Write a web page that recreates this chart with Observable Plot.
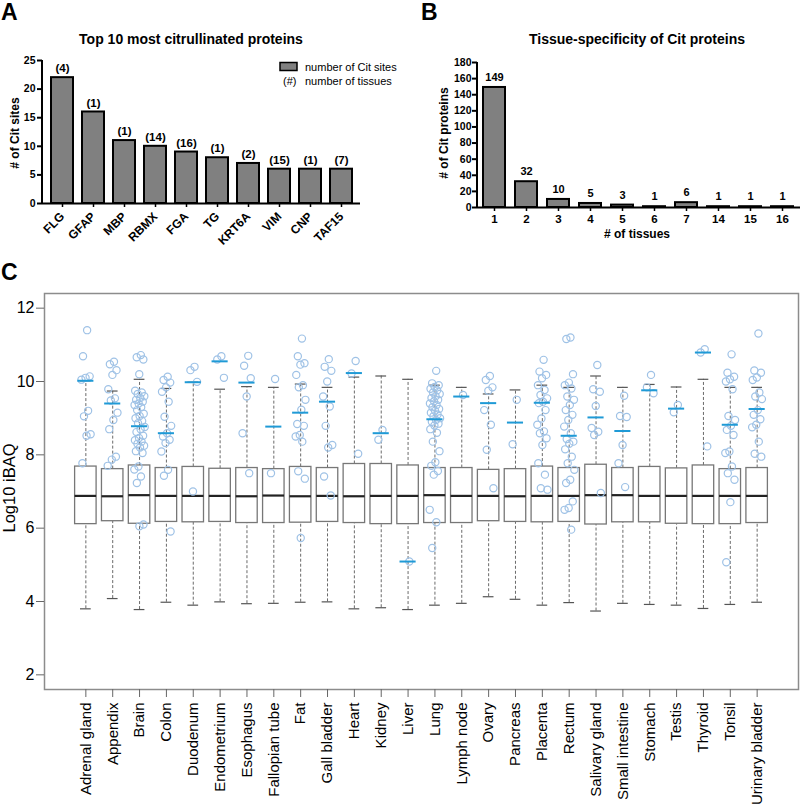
<!DOCTYPE html>
<html><head><meta charset="utf-8">
<script src="https://cdn.jsdelivr.net/npm/d3@7"></script>
<script src="https://cdn.jsdelivr.net/npm/@observablehq/plot@0.6"></script>
<style>
html,body{margin:0;padding:0;background:#fff;}
#root{position:relative;width:800px;height:811px;overflow:hidden;font-family:"Liberation Sans",Arial,sans-serif;}
#root > svg{position:absolute;}
</style></head><body><div id="root"></div>
<script>
// ---------- Panel A data ----------
const proteins = ["FLG","GFAP","MBP","RBMX","FGA","TG","KRT6A","VIM","CNP","TAF15"];
const citSites = [22,16,11,10,9,8,7,6,6,6];
const tissueCounts = [4,1,1,14,16,1,2,15,1,7];

// ---------- Panel B data ----------
const numTissues = ["1","2","3","4","5","6","7","14","15","16"];
const citProteinCounts = [149,32,10,5,3,1,6,1,1,1];

// ---------- Panel C data ----------
const tissues = ["Adrenal gland","Appendix","Brain","Colon","Duodenum","Endometrium","Esophagus","Fallopian tube","Fat","Gall bladder","Heart","Kidney","Liver","Lung","Lymph node","Ovary","Pancreas","Placenta","Rectum","Salivary gland","Small intestine","Stomach","Testis","Thyroid","Tonsil","Urinary bladder"];
const boxQ1  = [6.11,6.19,6.12,6.17,6.16,6.17,6.14,6.14,6.15,6.17,6.14,6.11,6.11,6.14,6.14,6.19,6.17,6.16,6.17,6.10,6.16,6.16,6.12,6.11,6.11,6.14];
const boxMed = [6.88,6.87,6.90,6.88,6.88,6.88,6.87,6.89,6.87,6.88,6.87,6.88,6.88,6.90,6.88,6.88,6.87,6.88,6.88,6.90,6.90,6.88,6.88,6.88,6.88,6.88];
const boxQ3  = [7.68,7.61,7.71,7.64,7.67,7.62,7.64,7.61,7.67,7.64,7.75,7.75,7.71,7.64,7.64,7.59,7.61,7.68,7.64,7.73,7.64,7.67,7.63,7.71,7.61,7.64];
const whiskerLo = [3.80,4.08,3.78,3.98,3.90,3.99,3.94,3.95,3.98,3.99,3.80,3.83,3.78,3.90,3.95,4.13,4.06,3.90,3.97,3.74,3.95,3.92,3.90,3.81,3.92,3.98];
const whiskerHi = [10.02,9.74,10.06,9.81,9.98,9.79,9.86,9.84,9.93,9.84,10.12,10.15,10.06,9.90,9.84,9.66,9.77,9.90,9.84,10.15,9.84,9.92,9.85,10.06,9.84,9.84];
const citMedian = [10.02,9.40,8.78,8.59,9.98,10.55,9.97,8.77,9.15,9.45,10.23,8.59,5.09,8.97,9.59,9.41,8.88,9.42,8.52,9.02,8.65,9.76,9.26,10.79,8.82,9.25];
const citPoints = [
  [11.40,10.69,10.14,10.10,10.05,9.20,9.05,8.56,8.52,7.77],
  [10.54,10.47,10.31,10.18,9.79,9.54,9.48,9.15,8.95,8.70,7.95,7.87,7.70],
  [10.72,10.66,10.60,10.20,9.75,9.70,9.66,9.60,9.55,9.50,9.45,9.40,9.36,9.30,9.22,9.12,9.06,9.00,8.92,8.86,8.76,8.70,8.62,8.52,8.46,8.40,8.36,8.30,8.25,8.20,8.10,8.05,7.68,7.60,7.41,7.23,6.10,6.05],
  [10.13,10.04,9.97,9.84,9.72,9.45,9.04,8.79,8.59,8.50,8.41,8.32,8.09,7.59,7.43,5.91],
  [10.40,10.31,9.99,7.00],
  [10.69,10.60,10.10],
  [10.70,10.43,10.09,9.59,8.59,7.50],
  [10.07,7.50],
  [11.17,10.69,10.50,10.46,10.18,9.90,9.84,9.50,9.23,8.84,8.79,8.54,8.50,8.36,7.55,7.35,5.73],
  [10.61,10.40,10.29,10.00,9.59,9.32,8.79,8.27,8.20,7.41,6.89],
  [10.56,10.22,8.03],
  [8.68,8.41],
  [5.09],
  [10.29,9.95,9.90,9.85,9.80,9.76,9.70,9.66,9.60,9.55,9.50,9.46,9.40,9.36,9.30,9.25,9.20,9.15,9.10,9.05,9.00,8.95,8.90,8.85,8.80,8.70,8.60,8.36,8.10,7.80,7.70,7.56,7.46,6.50,6.16,5.46],
  [9.63],
  [10.15,10.04,9.84,9.75,9.22,8.82,8.14,7.09],
  [9.50,8.29],
  [10.59,10.27,10.18,10.09,9.90,9.77,9.63,9.54,9.45,9.41,9.22,8.99,8.82,8.64,8.59,8.45,8.27,7.77,7.46,7.09,7.05],
  [11.20,11.16,10.20,9.97,9.90,9.81,9.59,9.50,9.36,9.22,9.09,8.95,8.77,8.59,8.43,8.36,8.30,8.15,7.95,7.77,7.59,7.32,7.23,6.73,6.55,6.50,5.96],
  [10.45,9.79,9.72,9.33,8.73,8.63,8.54,6.96],
  [9.61,9.06,9.03,8.27,7.77,7.12],
  [10.18,9.84,9.68],
  [9.36,9.16],
  [10.88,10.79,8.23],
  [10.74,10.24,10.13,10.06,10.00,9.79,9.06,8.95,8.79,8.68,8.54,8.09,8.05,7.68,7.50,7.32,6.71,5.07],
  [11.31,10.30,10.24,10.11,10.04,9.70,9.59,9.52,9.22,9.09,8.97,8.82,8.75,8.36,8.03,7.95]
];

const root = document.getElementById("root");
const FONT = '"Liberation Sans", Arial, sans-serif';

function leftAxisLine(sw) {
  return (index, scales, values, dims) => {
    const l = document.createElementNS("http://www.w3.org/2000/svg", "line");
    l.setAttribute("x1", dims.marginLeft); l.setAttribute("x2", dims.marginLeft);
    l.setAttribute("y1", dims.marginTop); l.setAttribute("y2", dims.height - dims.marginBottom);
    l.setAttribute("stroke", "black"); l.setAttribute("stroke-width", sw);
    return l;
  };
}

// ---------- Panel A ----------
const dataA = proteins.map((p, i) => ({p, n: citSites[i], t: tissueCounts[i]}));
const plotA = Plot.plot({
  width: 400, height: 240,
  marginLeft: 42, marginRight: 40, marginTop: 60, marginBottom: 37,
  style: {fontFamily: FONT, fontWeight: "bold", color: "black", background: "transparent", overflow: "visible"},
  x: {domain: proteins, paddingInner: 0.3, paddingOuter: 0.2, label: null},
  y: {domain: [0, 25], label: null},
  marks: [
    Plot.barY(dataA, {x: "p", y: "n", fill: "#808080", stroke: "black", strokeWidth: 2}),
    Plot.text(dataA, {x: "p", y: "n", text: d => `(${d.t})`, dy: -9, fontSize: 11.5, fontWeight: "bold", fill: "black"}),
    Plot.ruleY([0], {stroke: "black", strokeWidth: 2}),
    leftAxisLine(2),
    Plot.axisY({ticks: [0,5,10,15,20,25], tickSize: 5, tickPadding: 2, fontSize: 10.5, strokeWidth: 2, label: null}),
    Plot.axisX({tickRotate: -45, tickSize: 4, tickPadding: 7, fontSize: 12, strokeWidth: 1.5, label: null})
  ]
});
plotA.style.left = "0px"; plotA.style.top = "0px";
root.appendChild(plotA);

// ---------- Panel B ----------
const dataB = numTissues.map((k, i) => ({k, n: citProteinCounts[i]}));
const plotB = Plot.plot({
  width: 400, height: 240,
  marginLeft: 77, marginRight: 0, marginTop: 62, marginBottom: 33,
  style: {fontFamily: FONT, fontWeight: "bold", color: "black", background: "transparent", overflow: "visible"},
  x: {domain: numTissues, paddingInner: 0.31, paddingOuter: 0.14, label: null},
  y: {domain: [0, 180], label: null},
  marks: [
    Plot.barY(dataB, {x: "k", y: "n", fill: "#808080", stroke: "black", strokeWidth: 2}),
    Plot.text(dataB, {x: "k", y: "n", text: d => `${d.n}`, dy: -10, fontSize: 11, fontWeight: "bold", fill: "black"}),
    Plot.ruleY([0], {stroke: "black", strokeWidth: 2}),
    leftAxisLine(2),
    Plot.axisY({ticks: d3.range(0, 181, 20), tickSize: 5, tickPadding: 1, fontSize: 10.5, strokeWidth: 2, label: null}),
    Plot.axisX({tickSize: 4, tickPadding: 3, fontSize: 11.5, strokeWidth: 1.5, label: null})
  ]
});
plotB.style.left = "400px"; plotB.style.top = "0px";
root.appendChild(plotB);

// ---------- Panel C ----------
const idx = tissues.map((t, i) => ({i, pos: i + 1, q1: boxQ1[i], med: boxMed[i], q3: boxQ3[i], lo: whiskerLo[i], hi: whiskerHi[i], cit: citMedian[i]}));
const pts = [];
citPoints.forEach((arr, i) => arr.forEach((v, k) => {
  const jit = (((k + 1) * 0.618034) % 1 - 0.5) * 0.4;
  pts.push({pos: i + 1 + jit, v});
}));
const plotC = Plot.plot({
  width: 800, height: 561,
  marginLeft: 44, marginRight: 2, marginTop: 43, marginBottom: 122,
  style: {fontFamily: FONT, color: "black", background: "transparent", overflow: "visible"},
  x: {domain: [-0.54, 27.54], label: null},
  y: {domain: [1.6, 12.4], label: null},
  marks: [
    Plot.ruleX(idx, {x: "pos", y1: "q3", y2: "hi", stroke: "#6a6a6a", strokeWidth: 1, strokeDasharray: "3,2"}),
    Plot.ruleX(idx, {x: "pos", y1: "lo", y2: "q1", stroke: "#6a6a6a", strokeWidth: 1, strokeDasharray: "3,2"}),
    Plot.ruleY(idx, {y: "hi", x1: d => d.pos - 0.2, x2: d => d.pos + 0.2, stroke: "#555", strokeWidth: 1.2}),
    Plot.ruleY(idx, {y: "lo", x1: d => d.pos - 0.2, x2: d => d.pos + 0.2, stroke: "#555", strokeWidth: 1.2}),
    Plot.rect(idx, {x1: d => d.pos - 0.4, x2: d => d.pos + 0.4, y1: "q1", y2: "q3", fill: "white", stroke: "#777", strokeWidth: 1.3}),
    Plot.ruleY(idx, {y: "med", x1: d => d.pos - 0.4, x2: d => d.pos + 0.4, stroke: "#222", strokeWidth: 2.2}),
    Plot.dot(pts, {x: "pos", y: "v", r: 3.6, stroke: "#9fc2e6", strokeWidth: 1.2, fill: "none"}),
    Plot.ruleY(idx, {y: "cit", x1: d => d.pos - 0.3, x2: d => d.pos + 0.3, stroke: "#1f9ad6", strokeWidth: 2}),
    Plot.frame({stroke: "#8c8c8c", strokeWidth: 1.5}),
    Plot.axisY({ticks: [2,4,6,8,10,12], tickSize: 8, tickPadding: 2, fontSize: 16, stroke: "#666", fill: "black", label: null}),
    Plot.axisX({ticks: d3.range(1, 27), tickFormat: i => tissues[i - 1], tickRotate: -90, tickSize: 8, tickPadding: 5, fontSize: 15, stroke: "#666", fill: "black", label: null})
  ]
});
plotC.style.left = "0px"; plotC.style.top = "250px";
root.appendChild(plotC);

// ---------- Overlay texts (panel letters, titles, axis titles, legend) ----------
const ov = d3.create("svg").attr("width", 800).attr("height", 811)
  .style("left", "0px").style("top", "0px").style("pointer-events", "none")
  .attr("font-family", FONT);
const txt = (x, y, s, size, weight, anchor, rot) => {
  const t = ov.append("text").attr("x", x).attr("y", y).attr("font-size", size)
    .attr("font-weight", weight).attr("text-anchor", anchor).attr("fill", "black").text(s);
  if (rot) t.attr("transform", `rotate(${rot},${x},${y})`);
  return t;
};
txt(1, 19.5, "A", 23, "bold", "start");
txt(421, 19.5, "B", 23, "bold", "start");
txt(1, 280, "C", 23, "bold", "start");
txt(191, 43.5, "Top 10 most citrullinated proteins", 14, "bold", "middle");
txt(637, 43.5, "Tissue-specificity of Cit proteins", 14, "bold", "middle");
txt(19, 133, "# of Cit sites", 12, "bold", "middle", -90);
txt(448, 133, "# of Cit proteins", 12, "bold", "middle", -90);
txt(637, 237.5, "# of tissues", 12, "bold", "middle");
txt(15, 488, "Log10 iBAQ", 16.5, "normal", "middle", -90);
// legend in panel A
ov.append("rect").attr("x", 280).attr("y", 62.5).attr("width", 17).attr("height", 8)
  .attr("fill", "#808080").attr("stroke", "black").attr("stroke-width", 1.5);
txt(305, 71, "number of Cit sites", 11, "normal", "start");
txt(283, 85, "(#)", 11, "normal", "start");
txt(305, 85, "number of tissues", 11, "normal", "start");
root.appendChild(ov.node());
</script></body></html>
